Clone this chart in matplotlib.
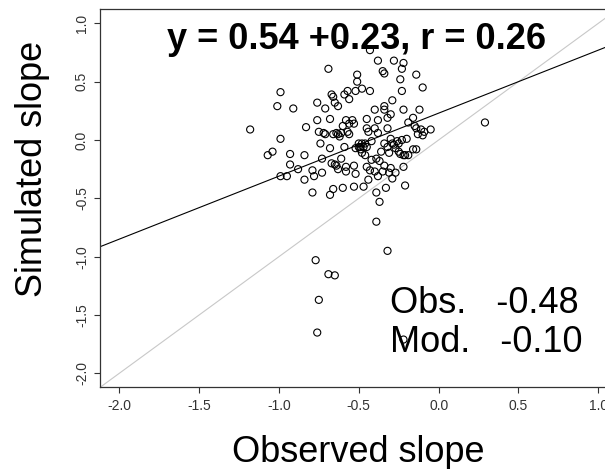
import matplotlib
matplotlib.use("Agg")
import matplotlib.pyplot as plt

plt.rcParams['font.family'] = ['Liberation Sans', 'DejaVu Sans']

obs_slope = [-1.18, -1.07, -1.04, -1.01, -0.99, -0.99, -0.99, -0.95, -0.93, -0.93,
             -0.91, -0.88, -0.84, -0.84, -0.83, -0.79, -0.79, -0.78, -0.77, -0.76,
             -0.76, -0.76, -0.75, -0.75, -0.74, -0.73, -0.73, -0.72, -0.71, -0.71,
             -0.69, -0.69, -0.68, -0.68, -0.68, -0.67, -0.67, -0.66, -0.66, -0.66,
             -0.65, -0.65, -0.65, -0.64, -0.64, -0.63, -0.63, -0.63, -0.62, -0.61,
             -0.61, -0.60, -0.60, -0.59, -0.59, -0.58, -0.58, -0.58, -0.57, -0.57,
             -0.56, -0.56, -0.56, -0.54, -0.53, -0.53, -0.53, -0.52, -0.52, -0.52,
             -0.51, -0.51, -0.50, -0.50, -0.49, -0.49, -0.48, -0.48, -0.48, -0.47,
             -0.47, -0.46, -0.46, -0.45, -0.45, -0.45, -0.45, -0.44, -0.44, -0.43,
             -0.43, -0.42, -0.42, -0.40, -0.40, -0.40, -0.39, -0.39, -0.39, -0.38,
             -0.38, -0.38, -0.38, -0.37, -0.37, -0.36, -0.35, -0.35, -0.34, -0.34,
             -0.34, -0.34, -0.34, -0.33, -0.32, -0.32, -0.32, -0.31, -0.31, -0.30,
             -0.30, -0.30, -0.29, -0.29, -0.29, -0.28, -0.28, -0.27, -0.27, -0.26,
             -0.25, -0.25, -0.24, -0.24, -0.23, -0.23, -0.23, -0.22, -0.22, -0.22,
             -0.22, -0.21, -0.21, -0.20, -0.19, -0.19, -0.16, -0.16, -0.15, -0.14,
             -0.14, -0.14, -0.13, -0.12, -0.11, -0.10, -0.10, -0.09, -0.05, 0.29,
             -0.32, -0.22, -0.62, -0.43]
sim_slope = [0.09, -0.13, -0.10, 0.29, 0.41, 0.01, -0.31, -0.31, -0.12, -0.21,
             0.27, -0.25, -0.13, -0.34, 0.11, -0.26, -0.45, -0.31, -1.03, 0.32,
             0.17, -1.65, 0.07, -1.37, -0.03, -0.16, -0.28, 0.06, 0.27, 0.05,
             0.61, -1.15, 0.18, -0.47, -0.07, -0.20, 0.39, 0.37, 0.05, -0.42,
             0.32, -0.21, -1.16, 0.06, -0.22, 0.29, 0.05, -0.25, 0.03, 0.06,
             -0.16, -0.41, 0.12, -0.06, 0.39, 0.17, -0.23, -0.27, 0.07, 0.42,
             0.35, 0.14, 0.05, 0.17, -0.22, -0.40, 0.14, -0.07, 0.42, -0.29,
             0.56, 0.50, -0.03, -0.06, -0.06, -0.08, 0.44, -0.11, -0.03, -0.40,
             -0.06, -0.13, -0.03, 0.10, 0.18, -0.06, -0.23, -0.34, 0.07, 0.42,
             -0.26, -0.17, -0.01, 0.26, 0.10, -0.27, -0.45, -0.70, -0.16, -0.31,
             0.68, 0.17, 0.06, -0.18, -0.53, -0.10, 0.59, -0.27, 0.57, 0.26,
             -0.22, 0.29, -0.03, -0.41, 0.10, 0.19, -0.06, -0.11, -0.28, 0.22,
             0.01, -0.24, -0.03, 0.34, -0.33, -0.04, 0.68, -0.28, -0.07, -0.01,
             -0.03, -0.10, -0.12, 0.52, 0.61, 0.00, 0.42, 0.26, -0.13, 0.66,
             -0.23, -0.39, -0.13, 0.01, -0.13, 0.15, 0.19, -0.08, 0.12, 0.56,
             -0.08, 0.10, 0.05, 0.26, 0.09, 0.45, 0.04, 0.07, 0.09, 0.15,
             -0.95, -1.71, 0.82, 0.77]

# coeficientes da regressao e medias
slope = 0.54
intercept = 0.23
r_value = 0.26
obs_mean = -0.48
mod_mean = -0.10
ticks = [-2.0, -1.5, -1.0, -0.5, 0.0, 0.5, 1.0]

fig = plt.figure(figsize=(6.05, 4.69), dpi=100)
ax = fig.add_axes([0.1653, 0.1740, 0.8554, 0.8062])

ax.axline((0, 0), slope=1, color='#c8c8c8', lw=0.8, zorder=1)
ax.axline((0, intercept), slope=slope, color='black', lw=0.8, zorder=1)
ax.scatter(obs_slope, sim_slope, s=26, facecolors='none', edgecolors='black',
           linewidths=0.8, zorder=2)

ax.set_xlim(-2.12, 1.12)
ax.set_ylim(-2.12, 1.12)
ax.set_xticks(ticks)
ax.set_yticks(ticks)
ax.set_xticklabels([f"{t:.1f}" for t in ticks])
ax.set_yticklabels([f"{t:.1f}" for t in ticks], rotation=90, va='center')
ax.tick_params(length=4, width=0.8, color='#333333', labelsize=10,
               labelcolor='#333333', pad=4)
for sp in ax.spines.values():
    sp.set_color('#333333')
    sp.set_linewidth(0.9)

fig.text(32.5 / 605, 1 - 169 / 469, 'Simulated slope', rotation=90,
         ha='center', va='center', fontsize=26)
fig.text(358.3 / 605, 1 - 461.7 / 469, 'Observed slope', ha='center',
         va='baseline', fontsize=26)
fig.text(356.3 / 605, 1 - 49.3 / 469,
         f'y = {slope:.2f} +{intercept:.2f}, r = {r_value:.2f}',
         ha='center', va='baseline', fontsize=26, fontweight='bold')
fig.text(390 / 605, 1 - 313.3 / 469, f'Obs.   {obs_mean:.2f}', ha='left',
         va='baseline', fontsize=26)
fig.text(390 / 605, 1 - 352.3 / 469, f'Mod.   {mod_mean:.2f}', ha='left',
         va='baseline', fontsize=26)

fig.savefig('out.png', dpi=100)
